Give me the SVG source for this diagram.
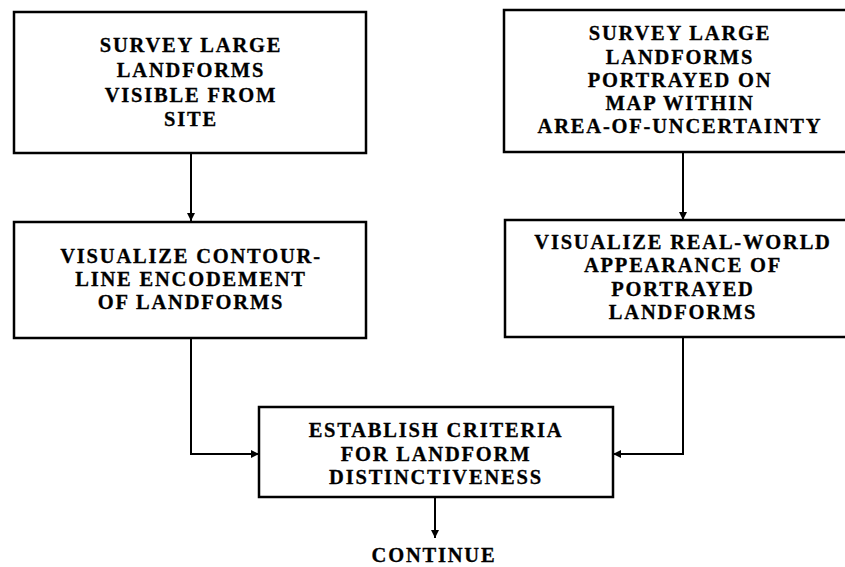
<svg xmlns="http://www.w3.org/2000/svg" width="845" height="567" viewBox="0 0 845 567">
  <style>
    .box { fill: #fff; stroke: #000; stroke-width: 2.5; }
    .lbl { font-family: "Liberation Serif", "Times New Roman", serif; font-weight: bold; font-size: 20.5px; letter-spacing: 1.8px; text-anchor: middle; fill: #000; stroke: #000; stroke-width: 0.3; }
    .wire { fill: none; stroke: #000; stroke-width: 2; }
  </style>
  <defs>
    <marker id="arrow" viewBox="0 0 10 10" refX="10" refY="5" markerWidth="9" markerHeight="8" markerUnits="userSpaceOnUse" orient="auto">
      <path d="M0,0 L10,5 L0,10 z" fill="#000"/>
    </marker>
  </defs>
  <rect width="845" height="567" fill="#fff"/>

  <g id="connectors">
    <path class="wire" d="M191,153 V221" marker-end="url(#arrow)"/>
    <path class="wire" d="M683,152 V220" marker-end="url(#arrow)"/>
    <path class="wire" d="M191,338 V454 H259" marker-end="url(#arrow)"/>
    <path class="wire" d="M683,337 V454 H613" marker-end="url(#arrow)"/>
    <path class="wire" d="M435,497 V538" marker-end="url(#arrow)"/>
  </g>

  <g id="survey-site">
    <rect class="box" x="14" y="12" width="352" height="141"/>
    <text class="lbl" x="191" y="52">SURVEY LARGE</text>
    <text class="lbl" x="191" y="77">LANDFORMS</text>
    <text class="lbl" x="191" y="102">VISIBLE FROM</text>
    <text class="lbl" x="191" y="126">SITE</text>
  </g>

  <g id="survey-map">
    <rect class="box" x="504" y="10" width="345" height="142"/>
    <text class="lbl" x="680" y="40">SURVEY LARGE</text>
    <text class="lbl" x="680" y="64">LANDFORMS</text>
    <text class="lbl" x="680" y="87">PORTRAYED ON</text>
    <text class="lbl" x="680" y="110">MAP WITHIN</text>
    <text class="lbl" x="680" y="133">AREA-OF-UNCERTAINTY</text>
  </g>

  <g id="visualize-contour">
    <rect class="box" x="14" y="222" width="352" height="116"/>
    <text class="lbl" x="191" y="263">VISUALIZE CONTOUR-</text>
    <text class="lbl" x="191" y="286">LINE ENCODEMENT</text>
    <text class="lbl" x="191" y="309">OF LANDFORMS</text>
  </g>

  <g id="visualize-real">
    <rect class="box" x="505" y="220" width="345" height="117"/>
    <text class="lbl" x="683" y="249">VISUALIZE REAL-WORLD</text>
    <text class="lbl" x="683" y="272">APPEARANCE OF</text>
    <text class="lbl" x="683" y="296">PORTRAYED</text>
    <text class="lbl" x="683" y="319">LANDFORMS</text>
  </g>

  <g id="establish-criteria">
    <rect class="box" x="259" y="407" width="354" height="90"/>
    <text class="lbl" x="436" y="437">ESTABLISH CRITERIA</text>
    <text class="lbl" x="436" y="461">FOR LANDFORM</text>
    <text class="lbl" x="436" y="484">DISTINCTIVENESS</text>
  </g>

  <g id="continue">
    <text class="lbl" x="434" y="562">CONTINUE</text>
  </g>
</svg>
